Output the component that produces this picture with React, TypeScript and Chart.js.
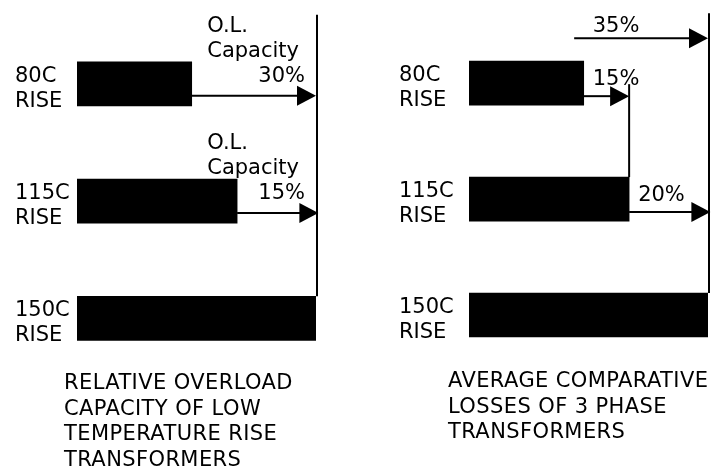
import React, { useEffect, useRef } from 'react';
import { Chart, registerables } from 'chart.js';

Chart.register(...registerables);

// ---------- data ----------
const riseLabels = [['80C', 'RISE'], ['115C', 'RISE'], ['150C', 'RISE']];

const overloadBars = [48, 67, 100];
const overloadArrowEnds = [100, 101];
const overloadPercents = ['30%', '15%'];
const overloadNote = ['O.L.', 'Capacity'];

const lossBars = [48, 67, 100];
const lossArrowEnds = [67, 101];
const lossPercents = ['15%', '20%'];
const totalLossStart = 44;
const totalLossEnd = 100;
const totalLossLabel = '35%';

const overloadTitle = ['RELATIVE OVERLOAD', 'CAPACITY OF LOW', 'TEMPERATURE RISE', 'TRANSFORMERS'];
const lossTitle = ['AVERAGE COMPARATIVE', 'LOSSES OF 3 PHASE', 'TRANSFORMERS'];

// ---------- helpers ----------
const FONT = '21px "DejaVu Sans", sans-serif';

function drawLine(ctx: CanvasRenderingContext2D, x0: number, y0: number, x1: number, y1: number) {
  ctx.beginPath();
  ctx.moveTo(x0, y0);
  ctx.lineTo(x1, y1);
  ctx.stroke();
}

function drawArrow(ctx: CanvasRenderingContext2D, x0: number, x1: number, y: number) {
  const head = 19;
  const half = 10;
  drawLine(ctx, x0, y, x1 - head + 1, y);
  ctx.beginPath();
  ctx.moveTo(x1, y);
  ctx.lineTo(x1 - head, y - half);
  ctx.lineTo(x1 - head, y + half);
  ctx.closePath();
  ctx.fill();
}

const overloadPlugin = {
  id: 'overloadAnnotations',
  afterDatasetsDraw(chart: any) {
    const ctx: CanvasRenderingContext2D = chart.ctx;
    const xs = chart.scales.x;
    const bars = chart.getDatasetMeta(0).data as any[];
    const top = (i: number) => bars[i].y - bars[i].height / 2;
    const vx = xs.getPixelForValue(overloadBars[overloadBars.length - 1]);
    ctx.save();
    ctx.strokeStyle = '#000';
    ctx.fillStyle = '#000';
    ctx.lineWidth = 2;
    drawLine(ctx, vx + 1, top(0) - 47, vx + 1, top(2));
    ctx.font = FONT;
    ctx.textBaseline = 'alphabetic';
    const capW = ctx.measureText(overloadNote[1]).width;
    for (let i = 0; i < overloadPercents.length; i++) {
      const y = bars[i].y + 12;
      drawArrow(ctx, xs.getPixelForValue(overloadBars[i]), xs.getPixelForValue(overloadArrowEnds[i]), y);
      ctx.textAlign = 'right';
      ctx.fillText(overloadPercents[i], vx - 11, bars[i].y - 2);
      ctx.textAlign = 'left';
      const lx = vx - 17 - capW;
      ctx.fillText(overloadNote[0], lx, bars[i].y - 52);
      ctx.fillText(overloadNote[1], lx, bars[i].y - 27);
    }
    ctx.restore();
  },
};

const lossPlugin = {
  id: 'lossAnnotations',
  afterDatasetsDraw(chart: any) {
    const ctx: CanvasRenderingContext2D = chart.ctx;
    const xs = chart.scales.x;
    const bars = chart.getDatasetMeta(0).data as any[];
    const top = (i: number) => bars[i].y - bars[i].height / 2;
    const vx = xs.getPixelForValue(lossBars[lossBars.length - 1]);
    ctx.save();
    ctx.strokeStyle = '#000';
    ctx.fillStyle = '#000';
    ctx.lineWidth = 2;
    // main vertical reference line
    drawLine(ctx, vx + 1, top(0) - 48, vx + 1, top(2));
    // middle vertical line at 115C level
    const mx = xs.getPixelForValue(lossArrowEnds[0]);
    drawLine(ctx, mx, bars[0].y + 1, mx, top(1));
    // total arrow
    const ty = top(0) - 23;
    drawArrow(ctx, xs.getPixelForValue(totalLossStart), xs.getPixelForValue(totalLossEnd), ty);
    ctx.font = FONT;
    ctx.textAlign = 'left';
    ctx.textBaseline = 'alphabetic';
    ctx.fillText(totalLossLabel, xs.getPixelForValue(lossBars[0]) + 9, ty - 6);
    for (let i = 0; i < lossPercents.length; i++) {
      const y = bars[i].y + 13;
      drawArrow(ctx, xs.getPixelForValue(lossBars[i]), xs.getPixelForValue(lossArrowEnds[i]), y);
      ctx.fillText(lossPercents[i], xs.getPixelForValue(lossBars[i]) + 9, bars[i].y + 2);
    }
    ctx.restore();
  },
};

function makeChart(
  canvas: HTMLCanvasElement,
  values: number[],
  padding: { left: number; right: number; top: number; bottom: number },
  axisWidth: number,
  plugin: any
) {
  return new Chart(canvas, {
    type: 'bar',
    data: {
      labels: riseLabels as any,
      datasets: [
        {
          data: values,
          backgroundColor: '#000',
          borderWidth: 0,
          barThickness: 44,
        },
      ],
    },
    options: {
      indexAxis: 'y',
      responsive: false,
      animation: false,
      events: [],
      layout: { padding },
      plugins: { legend: { display: false }, tooltip: { enabled: false }, title: { display: false } },
      scales: {
        x: { type: 'linear', min: 0, max: 100, display: false },
        y: {
          type: 'category',
          grid: { display: false },
          border: { display: false },
          ticks: {
            color: '#000',
            font: { family: '"DejaVu Sans", sans-serif', size: 21, lineHeight: 1.2 },
            crossAlign: 'far',
            padding: 0,
            labelOffset: 5,
          },
          afterFit: (s: any) => {
            s.width = axisWidth;
          },
        },
      },
    } as any,
    plugins: [plugin],
  });
}

const titleStyle: React.CSSProperties = {
  position: 'absolute',
  fontFamily: '"DejaVu Sans", sans-serif',
  fontSize: '21px',
  lineHeight: '25.5px',
  letterSpacing: '0.4px',
  color: '#000',
  whiteSpace: 'nowrap',
  margin: 0,
};

export default function App() {
  const leftRef = useRef<HTMLCanvasElement>(null);
  const rightRef = useRef<HTMLCanvasElement>(null);

  useEffect(() => {
    const c1 = makeChart(leftRef.current!, overloadBars, { left: 15, right: 44, top: 24, bottom: 90 }, 62, overloadPlugin);
    const c2 = makeChart(rightRef.current!, lossBars, { left: 39, right: 12, top: 21, bottom: 94 }, 70, lossPlugin);
    return () => {
      c1.destroy();
      c2.destroy();
    };
  }, []);

  return (
    <div style={{ position: 'fixed', left: 0, top: 0, width: 720, height: 467, background: '#fff', overflow: 'hidden' }}>
      <canvas ref={leftRef} width={360} height={467} style={{ position: 'absolute', left: 0, top: 0 }} />
      <canvas ref={rightRef} width={360} height={467} style={{ position: 'absolute', left: 360, top: 0 }} />
      <div style={{ ...titleStyle, left: 64, top: 370 }}>
        {overloadTitle.map((t) => (
          <div key={t}>{t}</div>
        ))}
      </div>
      <div style={{ ...titleStyle, left: 448, top: 368 }}>
        {lossTitle.map((t) => (
          <div key={t}>{t}</div>
        ))}
      </div>
    </div>
  );
}
